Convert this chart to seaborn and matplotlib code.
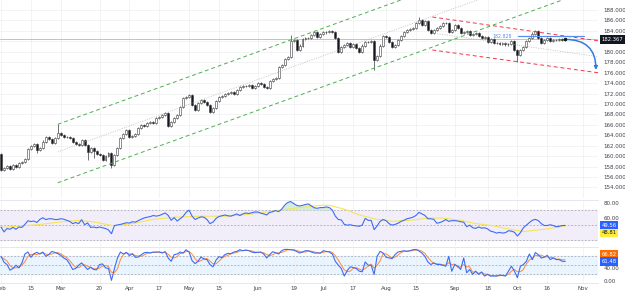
import numpy as np
import pandas as pd
import matplotlib
matplotlib.use("Agg")
import matplotlib.pyplot as plt
import seaborn as sns

# --- SETUP ---
sns.set_theme(style="white")
plt.rcParams["font.family"] = ["DejaVu Sans"]

# --- DATA (daily candles) ---
start_date = "2023-02-01"
first_open = 160.4
closes = [
    157.4, 157.8, 158.1, 157.6, 158.3, 157.9, 158.6, 158.9, 159.4, 161.4,
    161.9, 162.3, 161.2, 161.6, 162.8, 163.6, 163.2, 162.5, 163.4, 164.4,
    164.0, 163.7, 163.6, 163.4, 162.7, 162.3, 162.1, 163.0, 162.2, 160.8,
    161.5, 160.9, 160.4, 160.2, 159.3, 160.1, 160.6, 158.3, 160.2, 161.6,
    163.5, 164.3, 165.0, 163.6, 163.9, 164.2, 165.4, 166.0, 165.7, 166.3,
    166.5, 166.4, 167.3, 167.5, 167.9, 168.3, 165.8, 166.5, 167.3, 167.9,
    169.5, 171.1, 171.4, 171.7, 169.8, 168.8, 170.2, 170.8, 170.4, 169.8,
    168.5, 169.3, 170.6, 171.3, 171.6, 171.9, 172.1, 172.2, 172.0, 172.7,
    173.2, 173.4, 173.5, 173.6, 173.0, 173.5, 174.0, 173.8, 173.2, 173.0,
    174.4, 174.8, 175.0, 177.0, 177.5, 178.6, 179.0, 182.0, 182.3, 180.3,
    181.2, 182.4, 182.7, 182.6, 183.2, 183.8, 182.9, 183.4, 183.7, 183.8,
    183.9, 183.8, 182.6, 180.0, 180.9, 181.3, 181.7, 181.0, 181.4, 180.8,
    180.0, 181.2, 181.9, 181.8, 182.0, 178.4, 179.2, 181.2, 183.0, 182.8,
    181.9, 180.9, 181.3, 182.3, 183.0, 183.8, 184.2, 184.3, 184.5, 185.6,
    186.1, 185.1, 185.9, 184.2, 183.6, 184.2, 184.5, 185.0, 185.5, 185.6,
    183.8, 184.2, 185.1, 184.6, 183.6, 183.8, 184.0, 183.2, 183.4, 183.6,
    183.0, 182.6, 182.8, 181.9, 182.5, 181.7, 181.6, 181.5, 181.7, 181.4,
    181.5, 182.1, 180.3, 179.4, 180.3, 180.9, 182.1, 182.6, 183.5, 184.0,
    182.6, 181.7, 182.3, 182.7, 182.0, 182.3, 182.2, 182.4, 182.3, 182.367,
]
low_spike_bars = [12, 29, 31, 37, 125, 173]
low_spike_vals = [160.6, 159.3, 159.6, 157.7, 176.5, 178.0]
high_spike_bars = [19, 97, 140]
high_spike_vals = [166.1, 183.2, 186.7]

# RSI and its moving average
rsi = [
    47.5, 41, 45.5, 44.5, 47, 44.5, 47.5, 47, 51, 55.8,
    54.8, 55.5, 53.5, 57.7, 59.8, 57.4, 58.5, 58.5, 57.5, 57.5,
    58.5, 58, 56.5, 55, 52, 53.5, 52, 57.2, 50.5, 53,
    47, 47.5, 46.5, 47.5, 46.5, 45.5, 43.6, 38.5, 49.5, 50.2,
    51, 52, 53.2, 52.8, 54.5, 54, 56, 58, 59.6, 60.6,
    61.4, 62.8, 62, 62.8, 64.5, 66.2, 63, 56.4, 60, 55.5,
    58.5, 61.7, 67, 70, 62, 57.5, 59.5, 61, 60.5, 57.5,
    52, 54, 58.8, 61.5, 62.5, 63.5, 62.5, 62, 63.5, 64.9,
    62.8, 64.9, 66.2, 65.5, 66.5, 67.5, 67.5, 66, 64.9, 63.6,
    67, 67.8, 69.5, 68, 71, 76.5, 80, 81.5, 79, 76.4,
    75.5, 76.4, 77.5, 78.2, 75.5, 73, 72.5, 73.4, 73.4, 74.3,
    73.4, 70, 62, 57.5, 57, 51, 50, 50.5, 49.5, 49,
    48.5, 50, 59, 56.4, 56.4, 44, 49, 55, 57.5, 56,
    52, 50, 51, 52.5, 55, 56.5, 58.5, 59.4, 60.6, 62.8,
    67, 65, 63, 58.5, 58.5, 57.7, 52.5, 53.4, 55, 57.5,
    55, 56, 56, 55.5, 54.5, 54, 47.9, 50, 46.6, 45.7,
    47.5, 46, 46.5, 45, 42, 41, 39.4, 40.3, 39.4, 40,
    42.5, 42, 40.5, 35.5, 40, 46.5, 50, 53.4, 56.4, 57.7,
    56, 52, 49.5, 49.5, 50.5, 49.5, 47.9, 48.5, 49.5, 49.56,
]
rsi_ma_bars = [0, 6, 13, 20, 26, 31, 38, 44, 51, 58, 67, 76, 84, 92, 100, 107,
               110, 115, 120, 126, 131, 137, 143, 148, 154, 159, 165, 170, 175, 182, 189]
rsi_ma = [47, 48.7, 50.9, 54.3, 56.4, 54.3, 49, 52, 57.7, 60.6, 61.9, 61.9, 64.9, 69.1, 73.4, 76.4,
          76.4, 71.3, 63.6, 57.7, 55.1, 56.4, 59.4, 59.4, 56.4, 52.1, 49.1, 44.9, 41.5, 44.5, 48.81]

# Stochastic %K / %D
stoch_k = [
    77.9, 59, 51.6, 33.7, 39, 49.5, 41, 56.8, 85.3, 91.6,
    74.7, 86.3, 90.5, 85.3, 91.6, 77.9, 83.2, 93.7, 90.5, 86.3,
    81, 72.6, 67.4, 53.7, 35.8, 39, 49.5, 56.8, 46.3, 35.8,
    43.2, 35.8, 34.7, 51.6, 53.7, 41, 39, 1.1, 39, 72.6,
    91.6, 85.3, 90.5, 80, 86.3, 74.7, 75.8, 83.2, 89.5, 90.5,
    88.4, 91.6, 91.6, 91.6, 88.4, 92.6, 72.6, 62, 83.2, 85.3,
    91.6, 88.4, 98.9, 91.6, 64.2, 54.7, 62, 75.8, 69.5, 67.4,
    51.6, 44.2, 65.3, 76.8, 73.7, 83.2, 87.4, 86.3, 91.6, 93.7,
    98.9, 95.8, 97.9, 95.8, 91.6, 89.5, 90.5, 91.6, 85.3, 72.6,
    83.2, 92.6, 89.5, 85.3, 95.8, 100, 100, 98.9, 97.9, 93.7,
    88.4, 91.6, 95.8, 95.8, 91.6, 88.4, 88.4, 88.4, 95.8, 93.7,
    91.6, 85.3, 62, 49.5, 39, 14.7, 32.6, 44.2, 42.1, 39,
    30.5, 28.4, 60, 49.5, 49.5, 20, 78, 93.7, 88.4, 75,
    73, 70.5, 83.2, 91.6, 93.7, 95.8, 93.7, 95.8, 98.9, 100,
    95, 88.4, 77.9, 60, 51.6, 56.8, 52, 51.6, 49.5, 46.3,
    77.9, 30, 51.6, 46.3, 35.8, 72.6, 25.3, 35.8, 20, 30.5,
    20, 28, 14.7, 20, 14.7, 14.7, 15, 17.9, 16.8, 14.7,
    30.5, 46.3, 30.5, 9.5, 46.3, 51.6, 62, 85.3, 67.4, 90,
    83.2, 72.6, 75, 81, 67.4, 72.6, 67.4, 67.4, 62, 61.48,
]
stoch_d = [
    75, 70, 62.8, 48.1, 41.4, 40.7, 43.2, 49.1, 61, 77.9,
    83.9, 84.2, 83.8, 87.4, 89.1, 84.9, 84.2, 84.9, 89.1, 90.2,
    85.9, 80, 73.7, 64.6, 52.3, 42.8, 41.4, 48.4, 50.9, 46.3,
    41.8, 38.3, 37.9, 40.7, 46.7, 48.8, 44.6, 27, 26.4, 37.6,
    67.7, 83.2, 89.1, 85.3, 85.6, 80.3, 78.9, 77.9, 82.8, 87.7,
    89.5, 90.2, 90.5, 91.6, 90.5, 90.9, 84.5, 75.7, 72.6, 76.8,
    86.7, 88.4, 93, 93, 84.9, 70.2, 60.3, 64.2, 69.1, 70.9,
    62.8, 54.4, 53.7, 62.1, 71.9, 77.9, 81.4, 85.6, 88.4, 90.5,
    94.7, 96.1, 97.5, 96.5, 95.1, 92.3, 90.5, 90.5, 89.1, 83.2,
    80.4, 82.8, 88.4, 89.1, 90.2, 93.7, 98.6, 99.6, 98.9, 96.8,
    93.3, 91.2, 91.9, 94.4, 94.4, 91.9, 89.5, 88.4, 90.9, 92.6,
    93.7, 90.2, 79.6, 65.6, 50.2, 34.4, 28.8, 30.5, 39.6, 41.8,
    37.2, 32.6, 39.6, 46, 53, 39.7, 49.2, 63.9, 86.7, 85.7,
    78.8, 72.8, 75.6, 81.8, 89.5, 93.7, 94.4, 95.1, 96.1, 98.2,
    98, 94.5, 87.1, 75.4, 63.2, 56.1, 53.5, 53.5, 51, 49.1,
    57.9, 51.4, 53.2, 42.6, 44.6, 51.6, 44.6, 44.6, 27, 28.8,
    23.5, 26.2, 20.9, 20.9, 16.5, 16.5, 14.8, 15.9, 16.6, 16.5,
    20.7, 30.5, 35.8, 28.8, 28.8, 35.8, 53.3, 66.3, 71.6, 80.9,
    80.2, 81.9, 76.9, 76.2, 74.5, 73.7, 69.1, 69.1, 67, 66.82,
]

# drawn analysis lines (bar index, price)
green_x = [19, 200]
green_upper = [166.1, 203.6]
green_mid = [160.8, 198.3]
green_lower = [154.9, 192.4]
red_x = [144.5, 200.7]
red_upper = [186.66, 182.06]
red_mid = [183.6, 179.0]
red_lower = [180.34, 175.93]
resist_x = [173.2, 195.3]
resist_level = 183.02
resist_text = "182.828"
target_bar, target_price = 199.3, 176.5

tick_dates = ["2023-02-01", "2023-02-15", "2023-03-01", "2023-03-20", "2023-04-03",
              "2023-04-17", "2023-05-01", "2023-05-15", "2023-06-01", "2023-06-19",
              "2023-07-03", "2023-07-17", "2023-08-01", "2023-08-15", "2023-09-01",
              "2023-09-18", "2023-10-02", "2023-10-16", "2023-11-01"]
tick_labels = ["Feb", "15", "Mar", "20", "Apr", "17", "May", "15", "Jun", "19",
               "Jul", "17", "Aug", "15", "Sep", "18", "Oct", "16", "Nov"]
price_ticks = list(range(154, 190, 2))

# --- PREP ---
c = np.array(closes)
o = np.array([first_open] + closes[:-1])
bars = np.arange(len(c))
hi = np.maximum(o, c) + 0.2
lo = np.minimum(o, c) - 0.2
hi[high_spike_bars] = high_spike_vals
lo[low_spike_bars] = low_spike_vals
up = c >= o

dates = pd.bdate_range(start_date, periods=210)
tick_pos = [dates.get_loc(pd.Timestamp(d)) for d in tick_dates]

ind = pd.DataFrame({"bar": bars, "rsi": rsi, "k": stoch_k, "d": stoch_d})
ma_df = pd.DataFrame({"bar": rsi_ma_bars, "ma": rsi_ma})

# --- FIGURE ---
W, H = 625, 295
fig = plt.figure(figsize=(W / 100, H / 100), dpi=100)
right = 598 / W
ax = fig.add_axes([0, 1 - 198 / H, right, 198 / H])
ax_rsi = fig.add_axes([0, 1 - 246 / H, right, 46 / H], sharex=ax)
ax_st = fig.add_axes([0, 1 - 283 / H, right, 36 / H], sharex=ax)

grid_c = "#eeeff2"
txt_c = "#3c3f48"

for a in (ax, ax_rsi, ax_st):
    a.set_facecolor("white")
    for s in a.spines.values():
        s.set_visible(False)
    a.set_xticks(tick_pos)
    a.grid(True, axis="x", color=grid_c, lw=0.5)
    a.yaxis.tick_right()
    a.tick_params(axis="y", length=0, pad=4, labelsize=4, labelcolor=txt_c)
    a.tick_params(axis="x", length=0, labelbottom=False)

ax.set_xlim(-0.35, 200)

# main price panel (the 182 label sits under the last-price tag)
ax.set_ylim(151.98, 189.92)
ax.set_yticks(price_ticks)
ax.set_yticklabels(["" if v == 182 else f"{v:.3f}" for v in price_ticks])
ax.grid(True, axis="y", color=grid_c, lw=0.5)

ax.vlines(bars, lo, hi, color="#3a3a3a", lw=0.5, zorder=2)
ax.bar(bars, np.maximum(np.abs(c - o), 0.06), bottom=np.minimum(o, c), width=0.66,
       color=np.where(up, "white", "#131722"), edgecolor="#3a3a3a", linewidth=0.4, zorder=3)

ax.axhline(closes[-1], color="#b8b8b8", lw=0.6, zorder=1)

ax.plot(green_x, green_upper, color="#4caf50", lw=0.7, ls=(0, (4, 3)), zorder=4)
ax.plot(green_x, green_lower, color="#4caf50", lw=0.7, ls=(0, (4, 3)), zorder=4)
ax.plot(green_x, green_mid, color="#b5b5b5", lw=0.5, ls=(0, (1.5, 2)), zorder=4)
ax.plot(red_x, red_upper, color="#f23645", lw=0.7, ls=(0, (4, 3)), zorder=4)
ax.plot(red_x, red_lower, color="#f23645", lw=0.7, ls=(0, (4, 3)), zorder=4)
ax.plot(red_x, red_mid, color="#b5b5b5", lw=0.5, ls=(0, (1.5, 2)), zorder=4)

ax.plot(resist_x, [resist_level] * 2, color="#5b8def", lw=0.9, zorder=4)
ax.text(resist_x[0] - 2, resist_level, resist_text, fontsize=3.3, color="#5b8def",
        ha="right", va="center", zorder=5)

ax.annotate("", xy=(target_bar, target_price), xytext=(bars[-1], closes[-1]),
            arrowprops=dict(arrowstyle="-|>", color="#2f7de1", lw=1.1,
                            mutation_scale=5, connectionstyle="arc3,rad=-0.5",
                            shrinkA=0, shrinkB=0), zorder=6)
ax.plot(bars[-1], closes[-1], "o", color="#131722", ms=1.5, zorder=6)


def tag(a, value, text, fc, tc="white", dy=0):
    a.annotate(text, xy=(1, value), xycoords=("axes fraction", "data"),
               xytext=(2.5, dy), textcoords="offset points", ha="left", va="center",
               fontsize=3.8, color=tc, annotation_clip=False, zorder=10,
               bbox=dict(boxstyle="square,pad=0.3", fc=fc, ec="none"))


tag(ax, closes[-1], f"{closes[-1]:.3f}", "#131722")

# RSI panel (40 label hidden under the MA tag)
ax_rsi.set_ylim(22.2, 83.5)
ax_rsi.set_yticks([40, 60, 80])
ax_rsi.set_yticklabels(["", "60.00", "80.00"])
ax_rsi.axhspan(30, 70, color="#f2eef9", zorder=0)
for lvl in (30, 50, 70):
    ax_rsi.axhline(lvl, color="#9598a1", lw=0.45, ls=(0, (3, 2.5)), zorder=1)
ax_rsi.fill_between(ind["bar"], 70, ind["rsi"], where=ind["rsi"] > 70,
                    color="#c8e6c9", alpha=0.7, lw=0, interpolate=True, zorder=1)
sns.lineplot(data=ma_df, x="bar", y="ma", ax=ax_rsi, color="#f7e45a", lw=0.8, zorder=2)
sns.lineplot(data=ind, x="bar", y="rsi", ax=ax_rsi, color="#3d6cf5", lw=0.8, zorder=3)
ax_rsi.spines["top"].set_visible(True)
ax_rsi.spines["top"].set_color("#e0e3eb")
ax_rsi.spines["top"].set_linewidth(0.6)
tag(ax_rsi, rsi[-1], f"{rsi[-1]:.2f}", "#2962ff")
tag(ax_rsi, rsi_ma[-1], f"{rsi_ma[-1]:.2f}", "#ffeb3b", tc="#131722", dy=-5)

# Stochastic panel (80 label hidden under the %D tag)
ax_st.set_ylim(-7.4, 107.7)
ax_st.set_yticks([0, 40, 80])
ax_st.set_yticklabels(["0.00", "40.00", ""])
ax_st.axhspan(20, 80, color="#e9f4fe", zorder=0)
for lvl in (20, 50, 80):
    ax_st.axhline(lvl, color="#9598a1", lw=0.45, ls=(0, (3, 2.5)), zorder=1)
sns.lineplot(data=ind, x="bar", y="d", ax=ax_st, color="#ff8a3d", lw=0.7, zorder=2)
sns.lineplot(data=ind, x="bar", y="k", ax=ax_st, color="#3d6cf5", lw=0.8, zorder=3)
for s in ("top", "bottom"):
    ax_st.spines[s].set_visible(True)
    ax_st.spines[s].set_color("#e0e3eb")
    ax_st.spines[s].set_linewidth(0.6)
tag(ax_st, stoch_d[-1], f"{stoch_d[-1]:.2f}", "#ff6d00", dy=4)
tag(ax_st, stoch_k[-1], f"{stoch_k[-1]:.2f}", "#2962ff")

ax_st.tick_params(axis="x", labelbottom=True, labelsize=4, labelcolor=txt_c, pad=2)
ax_st.set_xticklabels(tick_labels)
for a in (ax, ax_rsi, ax_st):
    a.set_xlabel("")
    a.set_ylabel("")

fig.savefig("out.png", dpi=100)
